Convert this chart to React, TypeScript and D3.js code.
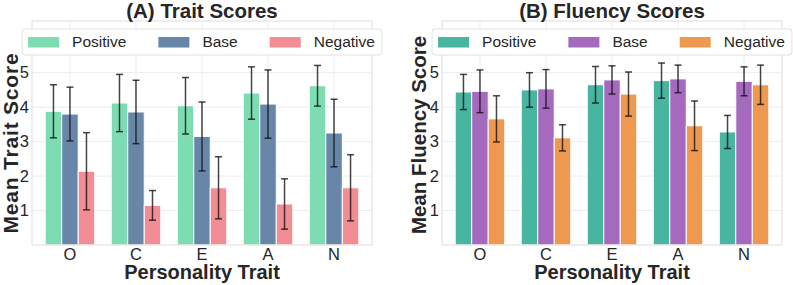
import { useEffect, useRef } from 'react'
import * as d3 from 'd3'

const traits = ['O', 'C', 'E', 'A', 'N']
const conditions = ['Positive', 'Base', 'Negative']
const yTicks = [1, 2, 3, 4, 5]

// (A) trait scores: means and error half-widths
const traitPositive = [3.88, 4.12, 4.04, 4.41, 4.62]
const traitPositiveErr = [0.77, 0.83, 0.82, 0.76, 0.59]
const traitBase = [3.8, 3.86, 3.15, 4.09, 3.25]
const traitBaseErr = [0.78, 0.92, 1.0, 0.99, 0.98]
const traitNegative = [2.14, 1.15, 1.66, 1.19, 1.66]
const traitNegativeErr = [1.12, 0.43, 0.9, 0.73, 0.96]

// (B) fluency scores
const fluencyPositive = [4.44, 4.5, 4.65, 4.77, 3.28]
const fluencyPositiveErr = [0.51, 0.5, 0.53, 0.51, 0.48]
const fluencyBase = [4.46, 4.53, 4.79, 4.82, 4.75]
const fluencyBaseErr = [0.62, 0.56, 0.41, 0.4, 0.42]
const fluencyNegative = [3.66, 3.11, 4.38, 3.46, 4.65]
const fluencyNegativeErr = [0.67, 0.38, 0.64, 0.72, 0.57]

const traitColors = ['#7ddcb1', '#6886a8', '#f28e93']
const fluencyColors = ['#47b5a0', '#a56abd', '#ee994f']

const FONT = '"Liberation Sans", Arial, sans-serif'
const TEXT = '#262626'

interface PanelSpec {
  title: string
  ylabel: string
  ylabelSize: number
  ylabelSpacing: number
  series: number[][]
  errors: number[][]
  colors: string[]
  left: number
  right: number
  ylabelX: number
  ylabelY: number
}

const WIDTH = 793
const HEIGHT = 285
const TOP = 21
const BOTTOM = 245

function drawPanel(svg: d3.Selection<SVGSVGElement, unknown, null, undefined>, p: PanelSpec) {
  const x = d3.scaleLinear().domain([-0.575, 4.575]).range([p.left, p.right])
  const y = d3.scaleLinear().domain([0, 6.5]).range([BOTTOM, TOP])
  const unit = x(1) - x(0)
  const barW = 0.25 * unit

  const g = svg.append('g')

  // grid
  g.selectAll('.hgrid')
    .data(yTicks)
    .enter().append('line')
    .attr('x1', p.left).attr('x2', p.right)
    .attr('y1', d => y(d)).attr('y2', d => y(d))
    .attr('stroke', '#ececec').attr('stroke-width', 1)

  g.selectAll('.vgrid')
    .data(traits)
    .enter().append('line')
    .attr('x1', (d, i) => x(i)).attr('x2', (d, i) => x(i))
    .attr('y1', TOP).attr('y2', BOTTOM)
    .attr('stroke', '#ececec').attr('stroke-width', 1)

  // bars
  p.series.forEach((vals, s) => {
    const off = (s - 1) * 0.25
    g.selectAll(`.bar-${s}`)
      .data(vals)
      .enter().append('rect')
      .attr('x', (d, i) => x(i + off) - barW / 2)
      .attr('y', d => y(d))
      .attr('width', barW)
      .attr('height', d => BOTTOM - y(d))
      .attr('fill', p.colors[s])
      .attr('stroke', '#fff')
      .attr('stroke-width', 1)
  })

  // error bars
  p.series.forEach((vals, s) => {
    const off = (s - 1) * 0.25
    vals.forEach((v, i) => {
      const cx = x(i + off)
      const e = p.errors[s][i]
      const eg = g.append('g').attr('stroke', '#111').attr('stroke-opacity', 0.78).attr('stroke-width', 1.5)
      eg.append('line').attr('x1', cx).attr('x2', cx).attr('y1', y(v - e)).attr('y2', y(v + e))
      eg.append('line').attr('x1', cx - 3.5).attr('x2', cx + 3.5).attr('y1', y(v - e)).attr('y2', y(v - e))
      eg.append('line').attr('x1', cx - 3.5).attr('x2', cx + 3.5).attr('y1', y(v + e)).attr('y2', y(v + e))
    })
  })

  // frame
  g.append('rect')
    .attr('x', p.left).attr('y', TOP)
    .attr('width', p.right - p.left).attr('height', BOTTOM - TOP)
    .attr('fill', 'none').attr('stroke', '#e3e3e3').attr('stroke-width', 1.2)

  // tick labels
  g.selectAll('.ytick')
    .data(yTicks)
    .enter().append('text')
    .attr('x', p.left - 3)
    .attr('y', d => y(d))
    .attr('dy', '0.35em')
    .attr('text-anchor', 'end')
    .style('font-family', FONT).style('font-size', '16.5px').style('fill', TEXT)
    .text(d => d)

  g.selectAll('.xtick')
    .data(traits)
    .enter().append('text')
    .attr('x', (d, i) => x(i))
    .attr('y', 260)
    .attr('text-anchor', 'middle')
    .style('font-family', FONT).style('font-size', '16.5px').style('fill', TEXT)
    .text(d => d)

  // labels
  const cx = (p.left + p.right) / 2
  g.append('text')
    .attr('x', cx).attr('y', 17.5)
    .attr('text-anchor', 'middle')
    .style('font-family', FONT).style('font-size', '20.5px').style('font-weight', 'bold').style('fill', TEXT)
    .text(p.title)

  g.append('text')
    .attr('x', cx).attr('y', 279)
    .attr('text-anchor', 'middle')
    .style('font-family', FONT).style('font-size', '20px').style('font-weight', 'bold').style('fill', TEXT)
    .text('Personality Trait')

  g.append('text')
    .attr('transform', `translate(${p.ylabelX},${p.ylabelY}) rotate(-90)`)
    .attr('text-anchor', 'middle')
    .style('font-family', FONT).style('font-size', `${p.ylabelSize}px`).style('font-weight', 'bold').style('fill', TEXT)
    .style('letter-spacing', `${p.ylabelSpacing}px`)
    .text(p.ylabel)

  // legend
  const legend = g.append('g')
  const box = legend.append('rect')
    .attr('y', 29).attr('height', 26).attr('rx', 3)
    .attr('fill', '#fff').attr('fill-opacity', 0.85)
    .attr('stroke', '#e2e2e2').attr('stroke-width', 1)

  let cursor = 6
  const items = legend.append('g')
  conditions.forEach((c, i) => {
    items.append('rect')
      .attr('x', cursor).attr('y', 37)
      .attr('width', 31).attr('height', 10.5)
      .attr('fill', p.colors[i])
    const t = items.append('text')
      .attr('x', cursor + 44).attr('y', 42)
      .attr('dy', '0.35em')
      .style('font-family', FONT).style('font-size', '15.5px').style('fill', TEXT)
      .text(c)
    const tw = (t.node() as SVGTextElement).getComputedTextLength()
    cursor += 44 + tw + (i < conditions.length - 1 ? 32 : 7)
  })
  const x0 = cx - cursor / 2
  box.attr('x', x0).attr('width', cursor)
  items.attr('transform', `translate(${x0},0)`)
}

export default function App() {
  const svgRef = useRef<SVGSVGElement>(null)

  useEffect(() => {
    if (!svgRef.current) return
    const svg = d3.select(svgRef.current)
    svg.selectAll('*').remove()

    svg.append('rect').attr('width', WIDTH).attr('height', HEIGHT).attr('fill', '#fff')

    drawPanel(svg, {
      title: '(A) Trait Scores',
      ylabel: 'Mean Trait Score',
      ylabelSize: 21,
      ylabelSpacing: 0.8,
      series: [traitPositive, traitBase, traitNegative],
      errors: [traitPositiveErr, traitBaseErr, traitNegativeErr],
      colors: traitColors,
      left: 32,
      right: 372,
      ylabelX: 18,
      ylabelY: 143,
    })

    drawPanel(svg, {
      title: '(B) Fluency Scores',
      ylabel: 'Mean Fluency Score',
      ylabelSize: 20.5,
      ylabelSpacing: 0,
      series: [fluencyPositive, fluencyBase, fluencyNegative],
      errors: [fluencyPositiveErr, fluencyBaseErr, fluencyNegativeErr],
      colors: fluencyColors,
      left: 442,
      right: 782,
      ylabelX: 426,
      ylabelY: 135,
    })
  }, [])

  return (
    <div style={{ position: 'absolute', left: 0, top: 0 }}>
      <svg ref={svgRef} width={WIDTH} height={HEIGHT} style={{ display: 'block' }}></svg>
    </div>
  )
}
